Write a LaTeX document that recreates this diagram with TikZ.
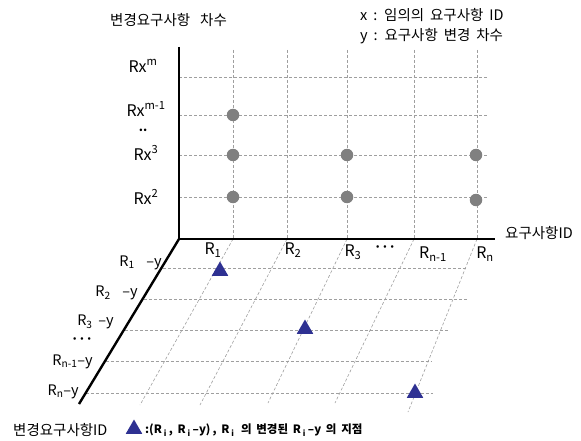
\documentclass[tikz,border=0pt]{standalone}
\usepackage{fontspec}
\setmainfont{Noto Sans CJK KR}[WordSpace=1.8]
\usetikzlibrary{shapes.geometric}
\definecolor{marknavy}{RGB}{46,49,146}
\definecolor{dotgray}{RGB}{128,128,128}

\begin{document}
\begin{tikzpicture}[x=1pt, y=-1pt,
        axisline/.style = {line width=2.4pt},
        gridline/.style = {gray!75, line width=0.6pt, dash pattern=on 3pt off 2pt},
        changedot/.style = {circle, fill=dotgray, inner sep=0pt, minimum size=12.5pt},
        changemark/.style = {regular polygon, regular polygon sides=3, fill=marknavy, inner sep=0pt, minimum size=19pt},
        lbl/.style = {inner sep=1pt, font=\fontsize{14.5}{15}\selectfont},
        biglbl/.style = {lbl, font=\fontsize{16}{17}\selectfont},
        dotslbl/.style = {inner sep=0pt, font=\fontsize{12}{12}\selectfont\bfseries}
        ]
        \useasboundingbox (0,0) rectangle (581,441);

        % axes
        \coordinate (origin) at (179,239);
        \coordinate (ytop) at (179,47);
        \coordinate (xend) at (495,239);
        \coordinate (zend) at (79,404);

        % wall grid
        \foreach \gx in {233,287,347,414,477}
                \draw[gridline] (\gx,50) -- (\gx,239);
        \foreach \gy in {77,115,155,197}
                \draw[gridline] (179,\gy) -- (488,\gy);

        % floor grid
        \foreach \fx/\bx/\by in {233/140/405, 287/200/405, 347/268/403, 414/335/403, 477/408/412}
                \draw[gridline] (\fx,239) -- (\bx,\by);
        \foreach \fy/\rx in {268/467, 299/467, 330/448, 361/432, 393/433}
                \draw[gridline] ({180-101*(\fy-241)/163},\fy) -- (\rx,\fy);

        \draw[axisline] (ytop) -- (origin) -- (xend);
        \draw[axisline] (origin) -- (zend);

        % change points
        \foreach \px/\py [count=\i] in {233/115, 233/155, 347/155, 476/155, 233/197, 347/197, 476/200}
                \node[changedot] (dot\i) at (\px,\py) {};
        \node[changemark] (mark1) at (220,271) {};
        \node[changemark] (mark2) at (305,329) {};
        \node[changemark] (mark3) at (415,393) {};

        % titles
        \node[lbl, anchor=west] (ytitle) at (109,20) {변경요구사항\hspace{10pt}차수};
        \node[lbl, anchor=west] (keyx) at (359,15) {x : 임의의 요구사항 ID};
        \node[lbl, anchor=west] (keyy) at (359,36) {y : 요구사항 변경 차수};
        \node[lbl, anchor=west] (xtitle) at (504,233) {요구사항ID};

        % version labels
        \node[biglbl] (rxm) at (143,66) {Rx\textsuperscript{m}};
        \node[biglbl] (rxm1) at (146,109) {Rx\textsuperscript{m-1}};
        \node[dotslbl] (rxdots) at (143,130) {..};
        \node[biglbl] (rx3) at (146,153) {Rx\textsuperscript{3}};
        \node[biglbl] (rx2) at (146,197) {Rx\textsuperscript{2}};

        % requirement labels
        \node[biglbl] (r1) at (213,250) {R\textsubscript{1}};
        \node[biglbl] (r2) at (293,250) {R\textsubscript{2}};
        \node[biglbl] (r3) at (353,252) {R\textsubscript{3}};
        \node[dotslbl] (rdots) at (385,249) {···};
        \node[biglbl] (rn1) at (433,254) {R\textsubscript{n-1}};
        \node[biglbl] (rn) at (485,254) {R\textsubscript{n}};

        % changed requirement labels
        \node[lbl, anchor=east] (c1) at (163,263) {R\textsubscript{1}\ \ –y};
        \node[lbl, anchor=east] (c2) at (139,293) {R\textsubscript{2}\ \ –y};
        \node[lbl, anchor=east] (c3) at (115,322) {R\textsubscript{3}\ –y};
        \node[dotslbl] (cdots) at (82,341) {···};
        \node[lbl, anchor=east] (cn1) at (94,362) {R\textsubscript{n-1}–y};
        \node[lbl, anchor=east] (cn) at (80,392) {R\textsubscript{n}–y};

        % legend
        \node[lbl, anchor=west] (ztitle) at (12,430) {변경요구사항ID};
        \node[changemark] (keymark) at (134,429) {};
        \node[lbl, anchor=west, font=\fontsize{11.5}{12}\selectfont\bfseries] (keymarktext) at (144,430)
                {:(R\,\textsubscript{i}\,, R\,\textsubscript{i}\,–y)\,, R\,\textsubscript{i}\, 의 변경된 R\,\textsubscript{i}\,–y 의 지점};
\end{tikzpicture}
\end{document}
